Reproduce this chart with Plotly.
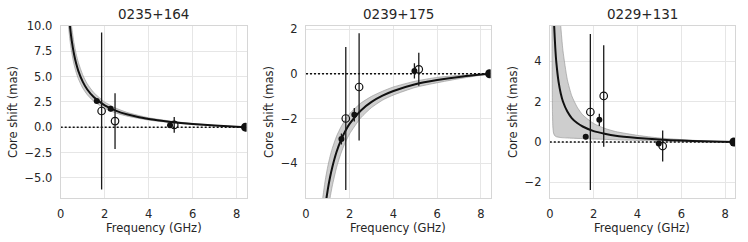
import plotly.graph_objects as go

# ---------------- data ----------------
ref_freq = 8.4
titles = ["0235+164", "0239+175", "0229+131"]

# 0235+164
p1_fill_x = [1.64, 2.27, 4.97]
p1_fill_y = [2.59, 1.83, 0.20]
p1_fill_err = [0.15, 0.25, 0.10]
p1_open_x = [1.86, 2.47, 5.16]
p1_open_y = [1.60, 0.60, 0.22]
p1_open_err = [7.75, 2.75, 0.78]
p1_fit_x = [0.35, 0.38, 0.42, 0.45, 0.5, 0.6, 0.7, 0.8, 1.0, 1.2, 1.5, 2.0, 2.5, 3.0, 4.0, 5.0, 6.0, 7.0, 8.4]
p1_fit_y = [11.74, 10.93, 10.01, 9.42, 8.58, 7.28, 6.31, 5.57, 4.50, 3.75, 2.98, 2.16, 1.64, 1.28, 0.81, 0.52, 0.31, 0.16, 0.0]
p1_hi_x = p1_fit_x
p1_hi_y = [13.5, 12.57, 11.51, 10.83, 9.87, 8.37, 7.26, 6.41, 5.18, 4.31, 3.43, 2.48, 1.89, 1.47, 0.93, 0.60, 0.36, 0.18, 0.0]
p1_lo_x = p1_fit_x
p1_lo_y = [10.1, 9.4, 8.61, 8.10, 7.38, 6.26, 5.43, 4.79, 3.87, 3.23, 2.56, 1.86, 1.41, 1.10, 0.70, 0.45, 0.27, 0.14, 0.0]

# 0239+175
p2_fill_x = [1.62, 2.21, 4.96]
p2_fill_y = [-2.92, -1.83, 0.13]
p2_fill_err = [0.25, 0.30, 0.34]
p2_open_x = [1.82, 2.43, 5.16]
p2_open_y = [-2.00, -0.59, 0.20]
p2_open_err = [3.20, 2.40, 0.74]
p2_fit_x = [0.85, 0.9, 1.0, 1.1, 1.2, 1.4, 1.6, 1.8, 2.0, 2.5, 3.0, 3.5, 4.0, 5.0, 6.0, 7.0, 8.4]
p2_fit_y = [-6.2, -5.81, -5.16, -4.63, -4.19, -3.49, -2.97, -2.56, -2.23, -1.65, -1.26, -0.98, -0.77, -0.47, -0.28, -0.14, 0.0]
p2_hi_x = [0.65, 0.75, 0.85, 0.9, 1.0, 1.1, 1.2, 1.4, 1.6, 1.8, 2.0, 2.5, 3.0, 3.5, 4.0, 5.0, 6.0, 7.0, 8.4]
p2_hi_y = [-6.66, -5.69, -4.96, -4.65, -4.13, -3.70, -3.35, -2.79, -2.38, -2.05, -1.78, -1.32, -1.01, -0.78, -0.59, -0.33, -0.16, -0.07, 0.0]
p2_lo_x = p2_hi_x
p2_lo_y = [-9.98, -8.53, -7.44, -6.97, -6.19, -5.56, -5.03, -4.19, -3.56, -3.07, -2.68, -1.98, -1.51, -1.18, -0.95, -0.61, -0.40, -0.22, 0.0]

# 0229+131
p3_fill_x = [1.64, 2.26, 4.97]
p3_fill_y = [0.26, 1.10, -0.08]
p3_fill_err = [0.12, 0.30, 0.10]
p3_open_x = [1.85, 2.46, 5.15]
p3_open_y = [1.49, 2.29, -0.20]
p3_open_err = [3.87, 2.52, 0.77]
p3_fit_x = [0.17, 0.2, 0.25, 0.3, 0.4, 0.5, 0.6, 0.8, 1.0, 1.25, 1.5, 2.0, 2.5, 3.0, 4.0, 5.0, 6.0, 7.0, 8.4]
p3_fit_y = [6.69, 5.75, 4.67, 3.93, 2.99, 2.41, 2.01, 1.51, 1.19, 0.94, 0.77, 0.54, 0.41, 0.31, 0.20, 0.12, 0.07, 0.04, 0.0]
p3_hi_x = [0.45, 0.5, 0.6, 0.8, 1.0, 1.25, 1.5, 2.0, 2.5, 3.0, 4.0, 5.0, 6.0, 7.0, 8.4]
p3_hi_y = [6.6, 5.76, 4.54, 3.10, 2.30, 1.73, 1.35, 0.92, 0.68, 0.52, 0.33, 0.20, 0.12, 0.06, 0.0]
p3_lo_x = [0.09, 0.105, 0.12, 0.14, 0.17, 0.22, 0.3, 0.5, 0.8, 1.0, 1.5, 2.0, 2.5, 3.0, 4.0, 5.0, 6.0, 7.0, 8.4]
p3_lo_y = [8.0, 4.0, 1.6, 0.75, 0.45, 0.32, 0.26, 0.22, 0.20, 0.19, 0.17, 0.15, 0.13, 0.11, 0.08, 0.05, 0.03, 0.015, 0.0]

x_ticks = [0, 2, 4, 6, 8]
y_ranges = [[-7.0, 10.0], [-5.56, 2.14], [-2.78, 5.76]]
y_dticks = [2.5, 2, 2]
y_formats = [".1f", "d", "d"]
ytitle_px = [13, 269, 513]

panels = [
    dict(fx=p1_fill_x, fy=p1_fill_y, fe=p1_fill_err, ox=p1_open_x, oy=p1_open_y, oe=p1_open_err,
         cx=p1_fit_x, cy=p1_fit_y, hx=p1_hi_x, hy=p1_hi_y, lx=p1_lo_x, ly=p1_lo_y),
    dict(fx=p2_fill_x, fy=p2_fill_y, fe=p2_fill_err, ox=p2_open_x, oy=p2_open_y, oe=p2_open_err,
         cx=p2_fit_x, cy=p2_fit_y, hx=p2_hi_x, hy=p2_hi_y, lx=p2_lo_x, ly=p2_lo_y),
    dict(fx=p3_fill_x, fy=p3_fill_y, fe=p3_fill_err, ox=p3_open_x, oy=p3_open_y, oe=p3_open_err,
         cx=p3_fit_x, cy=p3_fit_y, hx=p3_hi_x, hy=p3_hi_y, lx=p3_lo_x, ly=p3_lo_y),
]

# ---------------- figure ----------------
W, H = 748, 242
domains = [(60.7 / W, 246.6 / W), (306.0 / W, 490.7 / W), (549.8 / W, 735.0 / W)]
FONT = "DejaVu Sans"
TXT = "#262626"
GRID = "#e6e6e6"
FRAME = "#d6d6d6"

fig = go.Figure()
for i, p in enumerate(panels):
    xa = "x" if i == 0 else f"x{i+1}"
    ya = "y" if i == 0 else f"y{i+1}"
    fig.add_trace(go.Scatter(
        x=p["hx"] + p["lx"][::-1], y=p["hy"] + p["ly"][::-1],
        fill="toself", fillcolor="rgba(190,190,190,0.75)",
        line=dict(color="rgba(150,150,150,0.8)", width=0.8, shape="spline", smoothing=0.6),
        mode="lines", xaxis=xa, yaxis=ya, showlegend=False, hoverinfo="skip"))
    fig.add_trace(go.Scatter(
        x=p["cx"], y=p["cy"], mode="lines",
        line=dict(color="#111111", width=2, shape="spline", smoothing=0.6),
        xaxis=xa, yaxis=ya, showlegend=False))
    fig.add_trace(go.Scatter(
        x=[0, ref_freq], y=[0, 0], mode="lines",
        line=dict(color="#111111", width=1.6, dash="2px,2px"),
        xaxis=xa, yaxis=ya, showlegend=False))
    fig.add_trace(go.Scatter(
        x=p["fx"], y=p["fy"], mode="markers",
        marker=dict(color="#111111", size=6, symbol="circle"),
        error_y=dict(type="data", array=p["fe"], color="#1a1a1a", thickness=1.3, width=0),
        xaxis=xa, yaxis=ya, showlegend=False))
    fig.add_trace(go.Scatter(
        x=p["ox"], y=p["oy"], mode="markers",
        marker=dict(color="#111111", size=7.5, symbol="circle-open", line=dict(width=1.2)),
        error_y=dict(type="data", array=p["oe"], color="#1a1a1a", thickness=1.3, width=0),
        xaxis=xa, yaxis=ya, showlegend=False))
    fig.add_trace(go.Scatter(
        x=[ref_freq], y=[0], mode="markers",
        marker=dict(color="#111111", size=9, symbol="circle"),
        xaxis=xa, yaxis=ya, showlegend=False))

    common = dict(showgrid=True, gridcolor=GRID, gridwidth=1, zeroline=False,
                  showline=True, linecolor=FRAME, linewidth=1, mirror=True, automargin=False,
                  ticks="outside", ticklen=5, tickcolor="rgba(0,0,0,0)",
                  tickfont=dict(family=FONT, size=11.5, color=TXT))
    fig.layout[("xaxis" if i == 0 else f"xaxis{i+1}")] = dict(
        domain=list(domains[i]), range=[0, 8.45], tickvals=x_ticks, anchor=ya, **common)
    fig.layout[("yaxis" if i == 0 else f"yaxis{i+1}")] = dict(
        domain=[0, 1], range=y_ranges[i], dtick=y_dticks[i], tick0=0, tickformat=y_formats[i],
        anchor=xa, **common)
    cx = (domains[i][0] + domains[i][1]) / 2
    fig.add_annotation(text=titles[i], xref="paper", yref="paper", x=cx, y=1,
                       xanchor="center", yanchor="bottom", yshift=2, showarrow=False,
                       font=dict(family=FONT, size=13.5, color=TXT))
    fig.add_annotation(text="Frequency (GHz)", xref="paper", yref="paper", x=cx, y=0,
                       xanchor="center", yanchor="middle", yshift=-30, showarrow=False,
                       font=dict(family=FONT, size=11.5, color=TXT))
    fig.add_annotation(text="Core shift (mas)", xref="paper", yref="paper", x=ytitle_px[i] / W, y=0.5,
                       xanchor="center", yanchor="middle", textangle=-90, showarrow=False,
                       font=dict(family=FONT, size=11.5, color=TXT))

fig.update_layout(width=W, height=H, margin=dict(l=0, r=0, t=26, b=44),
                  paper_bgcolor="white", plot_bgcolor="white", showlegend=False,
                  hovermode=False, font=dict(family=FONT, color=TXT))
fig.write_html("out.html", config={"displayModeBar": False, "staticPlot": True},
               post_script="document.body.style.margin='0px';document.body.style.padding='0px';")
